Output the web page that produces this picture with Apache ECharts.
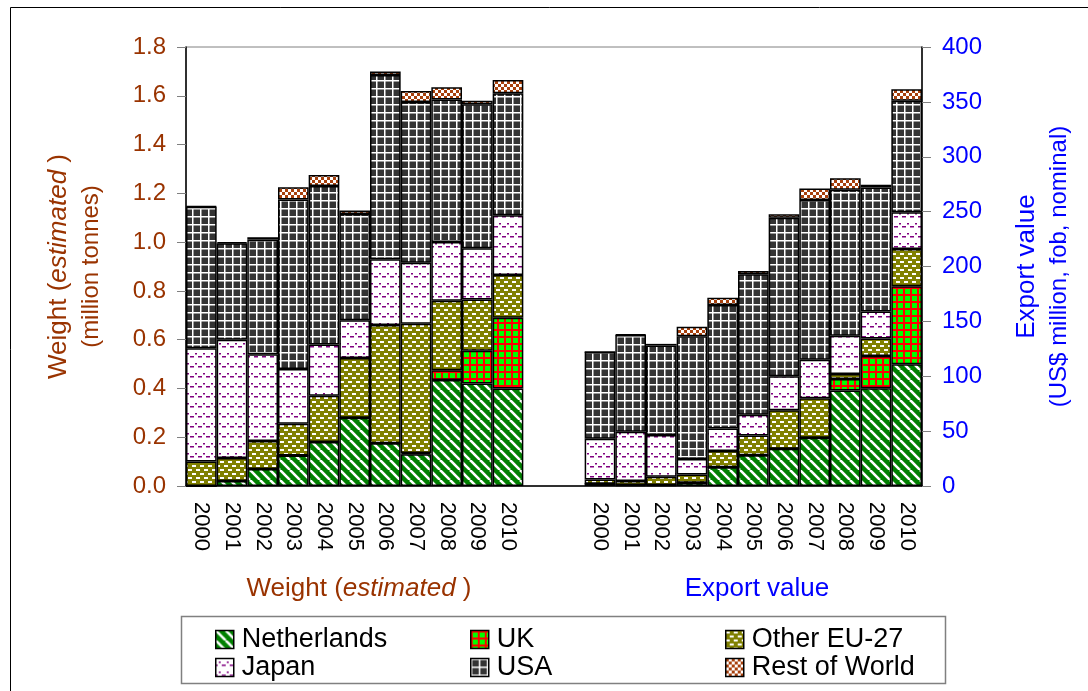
<!DOCTYPE html>
<html>
<head>
<meta charset="utf-8">
<script src="https://cdn.jsdelivr.net/npm/echarts@6/dist/echarts.min.js"></script>
<style>
  html, body { margin: 0; padding: 0; background: #fff; }
  #chart { width: 1088px; height: 691px; }
</style>
</head>
<body>
<div id="chart"></div>
<script>
// years, shared by both groups
const years = ['2000', '2001', '2002', '2003', '2004', '2005', '2006', '2007', '2008', '2009', '2010'];
const gap = ['', ''];

// weight, million tonnes (segment values)
const weightNetherlands = [0, 0.02, 0.07, 0.125, 0.18, 0.28, 0.175, 0.13, 0.435, 0.42, 0.40];
const weightUK = [0, 0, 0, 0, 0, 0, 0, 0.005, 0.04, 0.135, 0.29];
const weightOtherEU = [0.10, 0.095, 0.115, 0.13, 0.19, 0.245, 0.485, 0.53, 0.285, 0.21, 0.175];
const weightJapan = [0.465, 0.485, 0.355, 0.225, 0.21, 0.155, 0.27, 0.25, 0.24, 0.21, 0.245];
const weightUSA = [0.58, 0.395, 0.47, 0.695, 0.65, 0.435, 0.755, 0.66, 0.585, 0.59, 0.50];
const weightRoW = [0.003, 0.005, 0.01, 0.05, 0.045, 0.015, 0.015, 0.045, 0.05, 0.015, 0.055];

// export value, US$ million (segment values)
const valueNetherlands = [2, 1, 1, 3, 17, 28, 34, 44, 87, 89, 111];
const valueUK = [0, 0, 0, 0, 0, 0, 0, 0, 10.5, 29.5, 71];
const valueOtherEU = [4, 3.5, 7.5, 7.5, 15, 18, 35, 36, 4.5, 16, 34];
const valueJapan = [37, 45, 38, 14, 20.5, 19, 31, 35, 35, 24.5, 33.5];
const valueUSA = [79, 88, 81.5, 112, 112.5, 128, 144.5, 145.5, 133, 113, 101.5];
const valueRoW = [0, 0.5, 1.5, 8.5, 6.5, 3, 3, 10.5, 10.5, 2.5, 10.5];

const leftTicks = { min: 0, max: 1.8, interval: 0.2 };
const rightTicks = { min: 0, max: 400, interval: 50 };

const categories = years.concat(gap, years);
const blanks = new Array(years.length + gap.length).fill('-');

const BROWN = '#993300';
const BLUE = '#0000ff';
const FONT = '"Liberation Sans", Arial, sans-serif';

// pattern tiles
function tile(w, h, draw) {
  const c = document.createElement('canvas');
  c.width = w;
  c.height = h;
  draw(c.getContext('2d'));
  return { image: c, repeat: 'repeat' };
}

const patterns = {
  netherlands: tile(10, 10, ctx => {
    ctx.fillStyle = '#008000';
    ctx.fillRect(0, 0, 10, 10);
    ctx.strokeStyle = '#fff';
    ctx.lineWidth = 2.6;
    [-10, 0, 10].forEach(k => {
      ctx.beginPath();
      ctx.moveTo(k, 0);
      ctx.lineTo(k + 10, 10);
      ctx.stroke();
    });
  }),
  uk: tile(7, 7, ctx => {
    ctx.fillStyle = '#00ff00';
    ctx.fillRect(0, 0, 7, 7);
    ctx.fillStyle = '#ff0000';
    ctx.fillRect(0, 0, 7, 2);
    ctx.fillRect(0, 0, 2, 7);
  }),
  otherEU: tile(8, 8, ctx => {
    ctx.fillStyle = '#808000';
    ctx.fillRect(0, 0, 8, 8);
    ctx.fillStyle = '#fff';
    ctx.fillRect(0, 1, 4, 2);
    ctx.fillRect(4, 5, 4, 2);
  }),
  japan: tile(8, 10, ctx => {
    ctx.fillStyle = '#fff';
    ctx.fillRect(0, 0, 8, 10);
    ctx.fillStyle = '#800080';
    ctx.fillRect(0, 6, 2, 1.5);
    ctx.fillRect(3, 3, 2, 1.5);
    ctx.fillRect(6, 6, 2, 1.5);
  }),
  usa: tile(8, 8, ctx => {
    ctx.fillStyle = '#333333';
    ctx.fillRect(0, 0, 8, 8);
    ctx.fillStyle = '#fff';
    ctx.fillRect(0, 0, 8, 1.5);
    ctx.fillRect(0, 0, 1.5, 8);
  }),
  row: tile(6, 6, ctx => {
    ctx.fillStyle = '#fff';
    ctx.fillRect(0, 0, 6, 6);
    ctx.fillStyle = '#a8400c';
    ctx.fillRect(0, 0, 3, 3);
    ctx.fillRect(3, 3, 3, 3);
  })
};

const segments = [
  { name: 'Netherlands', fill: patterns.netherlands, w: weightNetherlands, v: valueNetherlands },
  { name: 'UK', fill: patterns.uk, w: weightUK, v: valueUK },
  { name: 'Other EU-27', fill: patterns.otherEU, w: weightOtherEU, v: valueOtherEU },
  { name: 'Japan', fill: patterns.japan, w: weightJapan, v: valueJapan },
  { name: 'USA', fill: patterns.usa, w: weightUSA, v: valueUSA },
  { name: 'Rest of World', fill: patterns.row, w: weightRoW, v: valueRoW }
];

function barSeries(seg, stack, axis, data) {
  return {
    name: seg.name,
    type: 'bar',
    stack: stack,
    yAxisIndex: axis,
    data: data,
    barGap: '-100%',
    barCategoryGap: '0%',
    itemStyle: { color: seg.fill, borderColor: '#000', borderWidth: 1.5 },
    emphasis: { disabled: true }
  };
}

const series = [];
segments.forEach(seg => series.push(barSeries(seg, 'weight', 0, seg.w.concat(blanks))));
segments.forEach(seg => series.push(barSeries(seg, 'value', 1, blanks.concat(seg.v))));

function legendColumn(names, left) {
  return {
    orient: 'vertical',
    left: left,
    top: 621,
    itemWidth: 18,
    itemHeight: 18,
    itemGap: 1,
    icon: 'rect',
    data: names,
    selectedMode: false,
    itemStyle: { borderColor: '#000', borderWidth: 1.5 },
    textStyle: { fontFamily: FONT, fontSize: 27, color: '#000', padding: [0, 0, 0, 3] }
  };
}

const chart = echarts.init(document.getElementById('chart'), null, { renderer: 'canvas' });

chart.setOption({
  animation: false,
  backgroundColor: '#fff',
  textStyle: { fontFamily: FONT },
  grid: { left: 186, right: 166, top: 47, bottom: 205, show: true, borderColor: '#808080', borderWidth: 1 },
  title: [
    {
      text: '{n|Weight (}{i|estimated}{n| )}',
      left: 354, top: 571, textAlign: 'center',
      textStyle: { fontWeight: 'normal', rich: {
        n: { fontFamily: FONT, fontSize: 26, fontWeight: 'normal', color: BROWN },
        i: { fontFamily: FONT, fontSize: 26, fontWeight: 'normal', color: BROWN, fontStyle: 'italic' }
      } }
    },
    {
      text: 'Export value',
      left: 752, top: 571, textAlign: 'center',
      textStyle: { fontFamily: FONT, fontSize: 26, fontWeight: 'normal', color: BLUE }
    }
  ],
  legend: [
    legendColumn(['Netherlands', 'Japan'], 210),
    legendColumn(['UK', 'USA'], 465),
    legendColumn(['Other EU-27', 'Rest of World'], 720)
  ],
  xAxis: {
    type: 'category',
    data: categories,
    axisLine: { lineStyle: { color: '#000', width: 1.5 } },
    axisTick: { interval: 0, length: 6, lineStyle: { color: '#000' } },
    axisLabel: { interval: 0, rotate: -90, margin: 16, fontFamily: FONT, fontSize: 22, color: '#000' }
  },
  yAxis: [
    {
      type: 'value',
      position: 'left',
      min: leftTicks.min, max: leftTicks.max, interval: leftTicks.interval,
      name: '{a|Weight (}{ai|estimated}{a| )}\n{b|(million tonnes)}',
      nameLocation: 'middle',
      nameRotate: 90,
      nameGap: 80,
      nameTextStyle: { rich: {
        a: { fontFamily: FONT, fontSize: 26, color: BROWN, lineHeight: 34 },
        ai: { fontFamily: FONT, fontSize: 26, color: BROWN, fontStyle: 'italic', lineHeight: 34 },
        b: { fontFamily: FONT, fontSize: 24, color: BROWN, lineHeight: 30 }
      } },
      axisLine: { show: true, lineStyle: { color: '#000', width: 1.5 } },
      axisTick: { show: true, length: 9, lineStyle: { color: '#808080' } },
      axisLabel: { margin: 20, fontFamily: FONT, fontSize: 24, color: BROWN, formatter: v => v.toFixed(1) },
      splitLine: { show: false }
    },
    {
      type: 'value',
      position: 'right',
      min: rightTicks.min, max: rightTicks.max, interval: rightTicks.interval,
      name: '{a|Export value}\n{b|(US$ million, fob, nominal)}',
      nameLocation: 'middle',
      nameRotate: 90,
      nameGap: 88,
      nameTextStyle: { rich: {
        a: { fontFamily: FONT, fontSize: 26, color: BLUE, lineHeight: 34 },
        b: { fontFamily: FONT, fontSize: 24, color: BLUE, lineHeight: 30 }
      } },
      axisLine: { show: true, lineStyle: { color: '#000', width: 1.5 } },
      axisTick: { show: true, length: 9, lineStyle: { color: '#808080' } },
      axisLabel: { margin: 20, fontFamily: FONT, fontSize: 24, color: BLUE },
      splitLine: { show: false }
    }
  ],
  graphic: [
    // outer frame and legend box
    { type: 'rect', silent: true, shape: { x: 10.5, y: 7.5, width: 1200, height: 800 }, style: { fill: null, stroke: '#000', lineWidth: 1 } },
    { type: 'rect', silent: true, shape: { x: 181.5, y: 616.5, width: 764, height: 67 }, style: { fill: null, stroke: '#808080', lineWidth: 1.5 } }
  ],
  series: series
});
</script>
</body>
</html>
